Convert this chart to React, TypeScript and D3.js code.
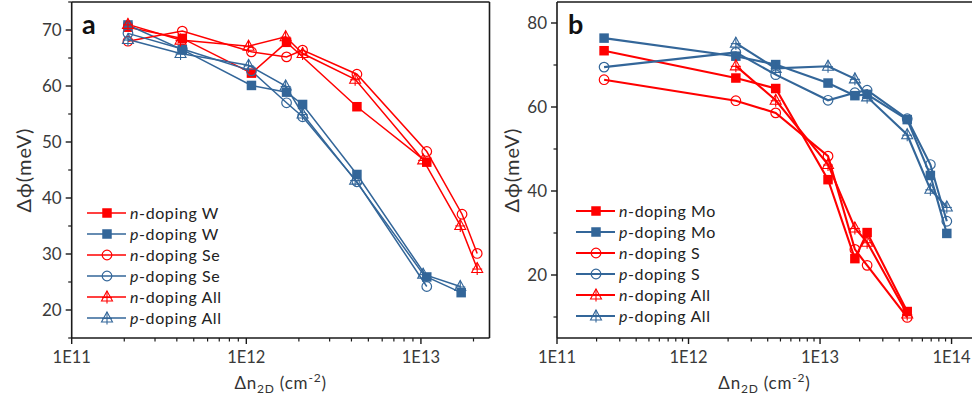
import React from "react";
import * as d3 from "d3";

// ---------- Panel a data ----------
const aNW_x = [2.1e11, 4.3e11, 1.07e12, 1.7e12, 4.3e12, 1.08e13];
const aNW_y = [70.5, 68.5, 62.3, 67.8, 56.3, 46.4];
const aPW_x = [2.1e11, 4.3e11, 1.07e12, 1.7e12, 2.1e12, 4.3e12, 1.08e13, 1.7e13];
const aPW_y = [70.9, 66.5, 60.1, 58.9, 56.7, 44.2, 25.9, 23.1];
const aNSe_x = [2.1e11, 4.3e11, 1.07e12, 1.7e12, 2.1e12, 4.3e12, 1.08e13, 1.72e13, 2.1e13];
const aNSe_y = [68.0, 69.8, 66.1, 65.2, 66.4, 62.1, 48.3, 37.1, 30.1];
const aPSe_x = [2.1e11, 4.3e11, 1.07e12, 1.7e12, 2.1e12, 4.3e12, 1.08e13];
const aPSe_y = [69.4, 66.6, 62.7, 57.0, 54.5, 42.9, 24.2];
const aNAll_x = [2.1e11, 4.2e11, 1.03e12, 1.68e12, 2.1e12, 4.2e12, 1.03e13, 1.68e13, 2.1e13];
const aNAll_y = [71.0, 68.2, 67.1, 68.8, 65.8, 61.2, 46.8, 35.1, 27.4];
const aPAll_x = [2.1e11, 4.2e11, 1.03e12, 1.68e12, 2.1e12, 4.2e12, 1.03e13, 1.68e13];
const aPAll_y = [68.3, 65.8, 63.7, 60.0, 55.0, 43.2, 26.4, 24.2];

// ---------- Panel b data ----------
const bNMo_x = [2.28e11, 2.29e12, 4.6e12, 1.15e13, 1.84e13, 2.28e13, 4.6e13];
const bNMo_y = [73.4, 66.9, 64.4, 42.7, 23.9, 30.1, 11.3];
const bPMo_x = [2.28e11, 2.29e12, 4.6e12, 1.15e13, 1.84e13, 2.28e13, 4.6e13, 6.9e13, 9.2e13];
const bPMo_y = [76.4, 72.1, 70.1, 65.7, 62.7, 63.0, 57.0, 43.7, 29.9];
const bNS_x = [2.28e11, 2.29e12, 4.6e12, 1.15e13, 1.84e13, 2.28e13, 4.6e13];
const bNS_y = [66.5, 61.5, 58.6, 48.3, 26.1, 22.3, 9.9];
const bPS_x = [2.28e11, 2.29e12, 4.6e12, 1.15e13, 1.84e13, 2.28e13, 4.6e13, 6.9e13, 9.2e13];
const bPS_y = [69.5, 73.0, 67.7, 61.6, 63.4, 64.0, 57.2, 46.3, 32.8];
const bNAll_x = [2.29e12, 4.6e12, 1.15e13, 1.84e13, 2.28e13, 4.6e13];
const bNAll_y = [69.8, 61.6, 46.3, 31.2, 27.8, 10.7];
const bPAll_x = [2.29e12, 4.6e12, 1.15e13, 1.84e13, 2.28e13, 4.6e13, 6.9e13, 9.2e13];
const bPAll_y = [75.2, 69.2, 69.7, 66.7, 62.4, 53.4, 40.4, 36.2];

const aLegend = ["W", "W", "Se", "Se", "All", "All"];
const bLegend = ["Mo", "Mo", "S", "S", "All", "All"];
const dopings = ["n", "p", "n", "p", "n", "p"];
const markers = ["square", "square", "circle", "circle", "tri", "tri"];

const aYTicks = [20, 30, 40, 50, 60, 70];
const aYMinor = [15, 25, 35, 45, 55, 65, 75];
const bYTicks = [20, 40, 60, 80];
const bYMinor = [10, 30, 50, 70];
const xMajor = [1e11, 1e12, 1e13, 1e14];
const xTickLabels = ["1E11", "1E12", "1E13", "1E14"];

const RED = "#ff0000";
const BLUE = "#336699";
const FONT = "Lato, 'DejaVu Sans', sans-serif";

function Marker({ type, x, y, color }: any) {
  if (type === "square") {
    const s = 9.5;
    return <rect x={x - s / 2} y={y - s / 2} width={s} height={s} fill={color} />;
  }
  if (type === "circle") {
    return <circle cx={x} cy={y} r={4.8} fill="none" stroke={color} strokeWidth={1.2} />;
  }
  const h = 10, w = 11;
  const top = y - h * 0.6, bot = y + h * 0.4;
  return (
    <g stroke={color} strokeWidth={1.1} fill="none">
      <path d={`M${x},${top} L${x + w / 2},${bot} L${x - w / 2},${bot} Z`} />
      <line x1={x} y1={top} x2={x} y2={bot + 2.5} />
      <line x1={x - w / 2 + 0.5} y1={y + 0.5} x2={x + w / 2 - 0.5} y2={y + 0.5} />
    </g>
  );
}

function Panel({ series, xDomain, xRange, yDomain, yRange, yTicks, yMinor, legend, legendPos, label, labelPos, yTitleX, lineW, showRight }: any) {
  const x = d3.scaleLog().domain(xDomain).range(xRange);
  const y = d3.scaleLinear().domain(yDomain).range(yRange);
  const [x0, x1] = xRange;
  const [yb, yt] = yRange;
  const minor: number[] = [];
  for (let e = 11; e <= 14; e++) for (let k = 2; k <= 9; k++) {
    const v = k * Math.pow(10, e);
    if (v > xDomain[0] && v < xDomain[1]) minor.push(v);
  }
  const majors = xMajor.filter((v) => v >= xDomain[0] && v <= xDomain[1] * 1.0001);
  const line = d3.line<[number, number]>().x((d) => x(d[0])).y((d) => y(d[1]));
  const cx = (x0 + x1) / 2;
  return (
    <g fontFamily={FONT}>
      {series.map((s: any, i: number) => (
        <path key={"l" + i} d={line(s.xs.map((v: number, j: number) => [v, s.ys[j]]))!} fill="none" stroke={s.color} strokeWidth={lineW} />
      ))}
      {series.map((s: any, i: number) => (
        <g key={"m" + i}>
          {s.xs.map((v: number, j: number) => (
            <Marker key={j} type={s.marker} x={x(v)} y={y(s.ys[j])} color={s.color} />
          ))}
        </g>
      ))}
      {/* frame */}
      <g stroke="#1a1a1a" strokeWidth={1.6} fill="none">
        <line x1={x0} y1={yt} x2={x1} y2={yt} />
        <line x1={x0} y1={yt} x2={x0} y2={yb} />
        <line x1={x0} y1={yb} x2={x1} y2={yb} />
        {showRight && <line x1={x1} y1={yt} x2={x1} y2={yb} />}
      </g>
      {/* y ticks */}
      {yTicks.map((t: number) => (
        <g key={"yt" + t}>
          <line x1={x0 - 6} x2={x0} y1={y(t)} y2={y(t)} stroke="#1a1a1a" strokeWidth={1.4} />
          <text x={x0 - 10} y={y(t)} dy="0.36em" textAnchor="end" fontSize={17} fill="#3a3a3a">{t}</text>
        </g>
      ))}
      {yMinor.map((t: number) => (
        <line key={"ym" + t} x1={x0 - 3.5} x2={x0} y1={y(t)} y2={y(t)} stroke="#1a1a1a" strokeWidth={1.2} />
      ))}
      {/* x ticks */}
      {majors.map((t: number) => (
        <g key={"xt" + t}>
          <line x1={x(t)} x2={x(t)} y1={yb} y2={yb + 6} stroke="#1a1a1a" strokeWidth={1.4} />
          <text x={x(t)} y={363} textAnchor="middle" fontSize={16.5} fill="#3a3a3a">{xTickLabels[xMajor.indexOf(t)]}</text>
        </g>
      ))}
      {minor.map((t: number) => (
        <line key={"xm" + t} x1={x(t)} x2={x(t)} y1={yb} y2={yb + 3.5} stroke="#1a1a1a" strokeWidth={1.2} />
      ))}
      {/* axis titles */}
      <text x={cx} y={389} textAnchor="middle" fontSize={17} fill="#333" letterSpacing={0.8}>
        Δn<tspan fontSize={12} dy={4}>2D</tspan><tspan dy={-4}> (cm</tspan><tspan fontSize={12} dy={-7}>-2</tspan><tspan dy={7}>)</tspan>
      </text>
      <text transform={`translate(${yTitleX},${(yt + yb) / 2}) rotate(-90)`} textAnchor="middle" fontSize={20} fill="#333" letterSpacing={1}>Δϕ(meV)</text>
      {/* panel label */}
      <text x={labelPos[0]} y={labelPos[1]} fontSize={27} fontWeight="bold" fill="#111">{label}</text>
      {/* legend */}
      {series.map((s: any, i: number) => {
        const ly = legendPos[1] + i * 21;
        return (
          <g key={"lg" + i}>
            <line x1={legendPos[0]} x2={legendPos[0] + 39} y1={ly} y2={ly} stroke={s.color} strokeWidth={lineW} />
            <Marker type={s.marker} x={legendPos[0] + 20} y={ly} color={s.color} />
            <text x={legendPos[0] + 43} y={ly} dy="0.36em" fontSize={16} fill="#222" letterSpacing={0.6}>
              <tspan fontStyle="italic">{dopings[i]}</tspan>-doping {legend[i]}
            </text>
          </g>
        );
      })}
    </g>
  );
}

export default function App() {
  const col = (i: number) => (dopings[i] === "n" ? RED : BLUE);
  const aSeries = [
    [aNW_x, aNW_y], [aPW_x, aPW_y], [aNSe_x, aNSe_y], [aPSe_x, aPSe_y], [aNAll_x, aNAll_y], [aPAll_x, aPAll_y],
  ].map((d, i) => ({ xs: d[0], ys: d[1], color: col(i), marker: markers[i] }));
  const bSeries = [
    [bNMo_x, bNMo_y], [bPMo_x, bPMo_y], [bNS_x, bNS_y], [bPS_x, bPS_y], [bNAll_x, bNAll_y], [bPAll_x, bPAll_y],
  ].map((d, i) => ({ xs: d[0], ys: d[1], color: col(i), marker: markers[i] }));
  return (
    <svg width={972} height={402} style={{ position: "absolute", left: 0, top: 0, background: "#fff" }}>
      <rect width={972} height={402} fill="#fff" />
      <Panel series={aSeries} xDomain={[1e11, 2.47e13]} xRange={[71.7, 489.5]} yDomain={[15, 75]} yRange={[338, 2]}
        yTicks={aYTicks} yMinor={aYMinor} legend={aLegend} legendPos={[87, 213]} label="a" labelPos={[82, 34]}
        yTitleX={31} lineW={1.5} showRight={true} />
      <Panel series={bSeries} xDomain={[1e11, 1.43e14]} xRange={[557, 972]} yDomain={[5, 85]} yRange={[338, 2]}
        yTicks={bYTicks} yMinor={bYMinor} legend={bLegend} legendPos={[576, 211]} label="b" labelPos={[568, 34]}
        yTitleX={519} lineW={2.1} showRight={false} />
    </svg>
  );
}
